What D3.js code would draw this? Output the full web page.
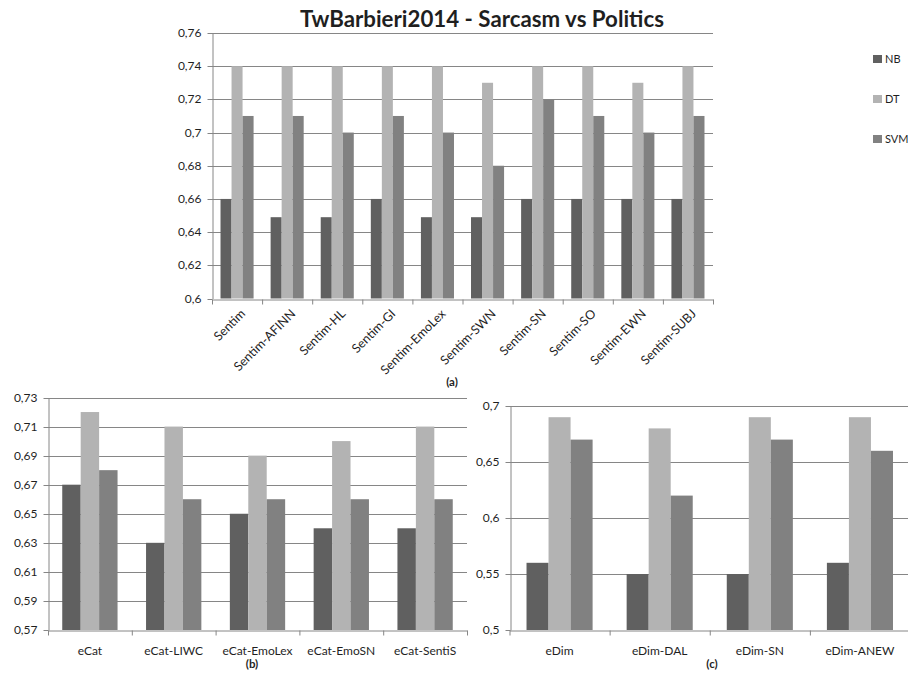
<!DOCTYPE html>
<html>
<head>
<meta charset="utf-8">
<script src="https://cdn.jsdelivr.net/npm/d3@7/dist/d3.min.js"></script>
<style>
  html, body { margin: 0; padding: 0; background: #fff; }
  svg { display: block; }
  text { font-family: Lato, "Liberation Sans", sans-serif; fill: #1f1f1f; }
</style>
</head>
<body>
<svg id="chart" width="908" height="673"></svg>
<script>
// ---- data -------------------------------------------------------------
const seriesNames = ["NB", "DT", "SVM"];
const seriesColors = ["#606060", "#b3b3b3", "#818181"];

// (a) sentiment lexicons
const catsA = ["Sentim", "Sentim-AFINN", "Sentim-HL", "Sentim-GI", "Sentim-EmoLex",
               "Sentim-SWN", "Sentim-SN", "Sentim-SO", "Sentim-EWN", "Sentim-SUBJ"];
const nbA  = [0.66, 0.649, 0.649, 0.66, 0.649, 0.649, 0.66, 0.66, 0.66, 0.66];
const dtA  = [0.74, 0.74, 0.74, 0.74, 0.74, 0.73, 0.74, 0.74, 0.73, 0.74];
const svmA = [0.71, 0.71, 0.70, 0.71, 0.70, 0.68, 0.72, 0.71, 0.70, 0.71];
const ticksA = [0.6, 0.62, 0.64, 0.66, 0.68, 0.7, 0.72, 0.74, 0.76];

// (b) emotion categories
const catsB = ["eCat", "eCat-LIWC", "eCat-EmoLex", "eCat-EmoSN", "eCat-SentiS"];
const nbB  = [0.67, 0.63, 0.65, 0.64, 0.64];
const dtB  = [0.72, 0.71, 0.69, 0.70, 0.71];
const svmB = [0.68, 0.66, 0.66, 0.66, 0.66];
const ticksB = [0.57, 0.59, 0.61, 0.63, 0.65, 0.67, 0.69, 0.71, 0.73];

// (c) emotion dimensions
const catsC = ["eDim", "eDim-DAL", "eDim-SN", "eDim-ANEW"];
const nbC  = [0.56, 0.55, 0.55, 0.56];
const dtC  = [0.69, 0.68, 0.69, 0.69];
const svmC = [0.67, 0.62, 0.67, 0.66];
const ticksC = [0.5, 0.55, 0.6, 0.65, 0.7];

const titleText = "TwBarbieri2014 - Sarcasm vs Politics";

// ---- helpers ----------------------------------------------------------
const itLocale = d3.formatLocale({ decimal: ",", thousands: ".", grouping: [3], currency: ["", ""] });
const fmt = itLocale.format("~r");
const axisColor = "#868686";

const svg = d3.select("#chart");

function drawPanel(opt) {
  const { cats, values, ticks, left, right, top, bottom, rotate, panelLabel, labelPos } = opt;
  const g = svg.append("g");
  const n = cats.length;

  const y = d3.scaleLinear().domain([ticks[0], ticks[ticks.length - 1]]).range([bottom, top]);
  const x = d3.scaleBand().domain(cats).range([left, right]).paddingInner(0.34).paddingOuter(0.17);
  const xs = d3.scaleBand().domain(seriesNames).range([0, x.bandwidth()]);
  const xEdges = d3.scaleLinear().domain([0, n]).range([left, right]);

  // horizontal gridlines
  g.append("g").selectAll("line").data(ticks.slice(1)).join("line")
    .attr("x1", left).attr("x2", right)
    .attr("y1", d => Math.round(y(d)) + 0.5).attr("y2", d => Math.round(y(d)) + 0.5)
    .attr("stroke", axisColor).attr("stroke-width", 1);

  // bars
  const rows = [];
  cats.forEach((c, i) => seriesNames.forEach((s, k) => rows.push({ c, s, k, v: values[k][i] })));
  g.append("g").selectAll("rect").data(rows).join("rect")
    .attr("x", d => x(d.c) + xs(d.s))
    .attr("width", xs.bandwidth())
    .attr("y", d => y(d.v))
    .attr("height", d => y(ticks[0]) - y(d.v))
    .attr("fill", d => seriesColors[d.k]);

  // y axis
  const ya = g.append("g").attr("transform", `translate(${Math.round(left) + 0.5},0)`)
    .call(d3.axisLeft(y).tickValues(ticks).tickFormat(fmt).tickSize(5).tickSizeOuter(0).tickPadding(6));
  ya.select(".domain").attr("stroke", axisColor);
  ya.selectAll(".tick line").attr("stroke", axisColor);
  ya.selectAll(".tick text").attr("font-size", 12).attr("font-family", "Lato, sans-serif").attr("fill", "#1f1f1f");
  ya.selectAll(".tick").attr("transform", d => `translate(0,${Math.round(y(d)) + 0.5})`);

  // x axis with ticks at category edges
  const xa = g.append("g").attr("transform", `translate(0,${Math.round(bottom) + 0.5})`)
    .call(d3.axisBottom(xEdges).tickValues(d3.range(n + 1)).tickFormat("").tickSize(5).tickSizeOuter(0));
  xa.select(".domain").attr("stroke", axisColor);
  xa.selectAll(".tick line").attr("stroke", axisColor);

  // category labels
  const lab = g.append("g").selectAll("text").data(cats).join("text")
    .attr("font-size", rotate ? 12.5 : 12)
    .text(d => d);
  if (rotate) {
    lab.attr("text-anchor", "end")
      .attr("transform", d => `translate(${x(d) + x.bandwidth() / 2 + 9},${bottom + 16}) rotate(-45)`);
  } else {
    lab.attr("text-anchor", "middle")
      .attr("x", d => x(d) + x.bandwidth() / 2)
      .attr("y", bottom + 25);
  }

  svg.append("text").attr("x", labelPos[0]).attr("y", labelPos[1])
    .attr("text-anchor", "middle").attr("font-size", 11.5).attr("font-weight", "bold")
    .text(panelLabel);
}

// ---- title ------------------------------------------------------------
svg.append("text")
  .attr("x", 482).attr("y", 27)
  .attr("text-anchor", "middle")
  .attr("font-size", 22).attr("font-weight", "bold")
  .attr("textLength", 364).attr("lengthAdjust", "spacingAndGlyphs")
  .text(titleText);

// ---- panels -------------------------------------------------------------
drawPanel({ cats: catsA, values: [nbA, dtA, svmA], ticks: ticksA,
  left: 212, right: 713, top: 33, bottom: 298.5, rotate: true,
  panelLabel: "(a)", labelPos: [452, 386] });

drawPanel({ cats: catsB, values: [nbB, dtB, svmB], ticks: ticksB,
  left: 48, right: 467, top: 397.5, bottom: 630, rotate: false,
  panelLabel: "(b)", labelPos: [252, 668] });

drawPanel({ cats: catsC, values: [nbC, dtC, svmC], ticks: ticksC,
  left: 509.5, right: 910, top: 406, bottom: 630, rotate: false,
  panelLabel: "(c)", labelPos: [712, 668] });

// ---- legend -----------------------------------------------------------
const legend = svg.append("g").selectAll("g").data(seriesNames).join("g")
  .attr("transform", (d, i) => `translate(873,${59 + i * 40})`);
legend.append("rect").attr("x", 0).attr("y", -4).attr("width", 9).attr("height", 8)
  .attr("fill", (d, i) => seriesColors[i]);
legend.append("text").attr("x", 12).attr("y", 4).attr("font-size", 11).text(d => d);
</script>
</body>
</html>
